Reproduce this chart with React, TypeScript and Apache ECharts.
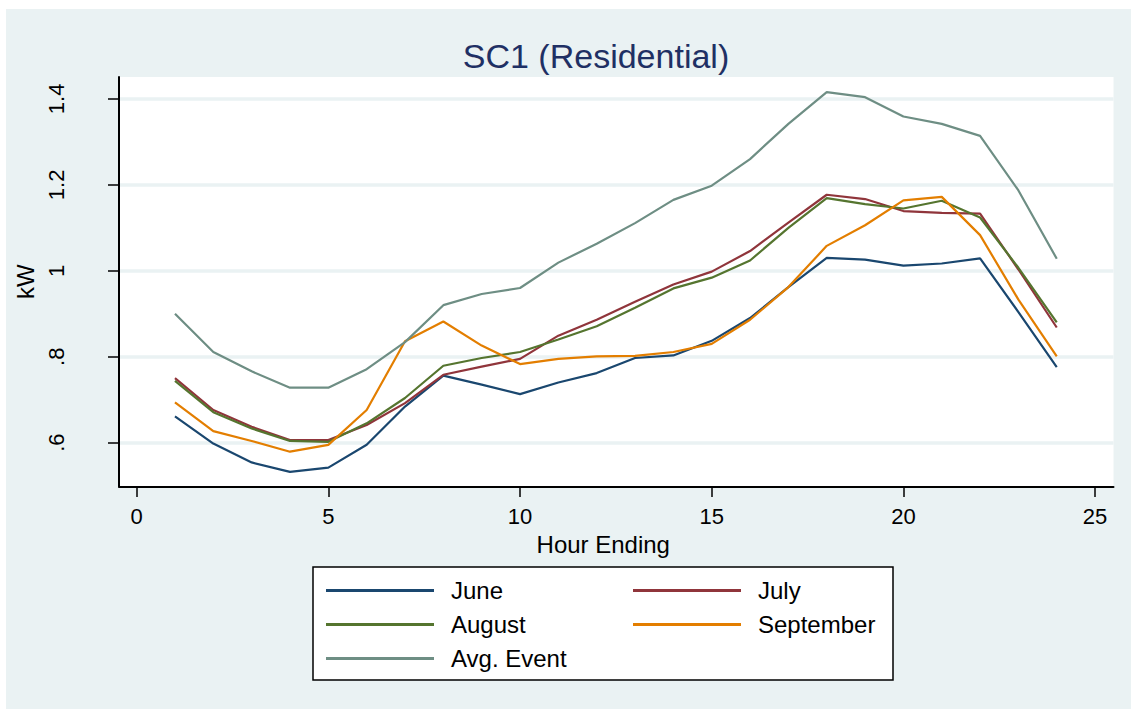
import React, { useEffect, useRef } from "react";
import * as echarts from "echarts";

const hours = [1, 2, 3, 4, 5, 6, 7, 8, 9, 10, 11, 12, 13, 14, 15, 16, 17, 18, 19, 20, 21, 22, 23, 24];

const june = [0.661, 0.598, 0.554, 0.532, 0.542, 0.595, 0.684, 0.756, 0.735, 0.713, 0.74, 0.762, 0.797, 0.803, 0.837, 0.89, 0.962, 1.03, 1.026, 1.012, 1.017, 1.029, 0.904, 0.776];
const july = [0.75, 0.676, 0.637, 0.606, 0.606, 0.641, 0.692, 0.758, 0.777, 0.795, 0.849, 0.886, 0.928, 0.968, 0.998, 1.046, 1.112, 1.177, 1.167, 1.139, 1.135, 1.133, 1.003, 0.868];
const august = [0.744, 0.671, 0.633, 0.604, 0.602, 0.645, 0.704, 0.779, 0.797, 0.811, 0.84, 0.871, 0.914, 0.959, 0.984, 1.024, 1.1, 1.169, 1.155, 1.145, 1.163, 1.124, 1.007, 0.88];
const september = [0.694, 0.627, 0.604, 0.579, 0.595, 0.676, 0.836, 0.882, 0.826, 0.783, 0.795, 0.801, 0.802, 0.811, 0.83, 0.886, 0.962, 1.058, 1.106, 1.164, 1.172, 1.083, 0.933, 0.801];
const avgEvent = [0.9, 0.811, 0.766, 0.728, 0.728, 0.771, 0.834, 0.92, 0.946, 0.96, 1.019, 1.063, 1.111, 1.165, 1.198, 1.26, 1.342, 1.416, 1.404, 1.359, 1.342, 1.314, 1.187, 1.028];

const seriesNames = ["June", "July", "August", "September", "Avg. Event"];
const seriesValues = [june, july, august, september, avgEvent];
const seriesColors = ["#1a476f", "#90353b", "#55752f", "#e37e00", "#6e8e84"];

const xTickValues = [0, 5, 10, 15, 20, 25];
const yTickValues = [0.6, 0.8, 1.0, 1.2, 1.4];
const yTickLabels = [".6", ".8", "1", "1.2", "1.4"];

const titleText = "SC1 (Residential)";
const xAxisTitle = "Hour Ending";
const yAxisTitle = "kW";

const FONT = "'Liberation Sans', Arial, sans-serif";
const BG = "#eaf2f3";

export default function App() {
  const ref = useRef<HTMLDivElement>(null);

  useEffect(() => {
    if (!ref.current) return;
    const chart = echarts.init(ref.current, undefined, { renderer: "svg" });

    const series = seriesNames.map((name, i) => ({
      name,
      type: "line",
      data: hours.map((h, j) => [h, seriesValues[i][j]]),
      showSymbol: false,
      symbol: "none",
      lineStyle: { color: seriesColors[i], width: 2.2 },
      itemStyle: { color: seriesColors[i] },
      z: 3 + i,
    }));

    const legendCommon = {
      orient: "vertical",
      padding: 0,
      itemGap: 10,
      itemWidth: 108,
      itemHeight: 3,
      icon: "rect",
      selectedMode: false,
      textStyle: {
        fontFamily: FONT,
        fontSize: 24,
        color: "#000",
        lineHeight: 22,
        padding: [0, 0, 0, 12],
      },
    };

    chart.setOption({
      animation: false,
      textStyle: { fontFamily: FONT },
      title: {
        text: titleText,
        left: 596,
        top: 38.5,
        textAlign: "center",
        padding: 0,
        textStyle: {
          fontFamily: FONT,
          fontSize: 34,
          fontWeight: "normal",
          color: "#1f3064",
          lineHeight: 34,
        },
      },
      graphic: [
        {
          type: "rect",
          shape: { x: 313, y: 567, width: 580, height: 113 },
          style: { fill: "#fff", stroke: "#000", lineWidth: 1.5 },
          silent: true,
          z: 0,
        },
      ],
      legend: [
        { ...legendCommon, left: 326, top: 578.5, data: ["June", "August", "Avg. Event"] },
        { ...legendCommon, left: 633, top: 578.5, data: ["July", "September"] },
      ],
      grid: {
        left: 119,
        right: 17.5,
        top: 77,
        bottom: 222.5,
        show: true,
        backgroundColor: "#fff",
        borderWidth: 0,
      },
      xAxis: {
        type: "value",
        min: -0.46,
        max: 25.48,
        name: xAxisTitle,
        nameLocation: "middle",
        nameGap: 38,
        nameTextStyle: {
          fontFamily: FONT,
          fontSize: 24,
          color: "#000",
          lineHeight: 24,
          padding: [0, 26, 0, 0],
        },
        axisLine: { show: true, onZero: false, lineStyle: { color: "#000", width: 2 } },
        axisTick: {
          show: true,
          length: 10.5,
          lineStyle: { color: "#000", width: 1.5 },
          customValues: xTickValues,
        },
        axisLabel: {
          show: true,
          margin: 19,
          fontFamily: FONT,
          fontSize: 22,
          color: "#000",
          lineHeight: 22,
          customValues: xTickValues,
        },
        splitLine: { show: false },
      },
      yAxis: {
        type: "value",
        min: 0.498,
        max: 1.451,
        name: yAxisTitle,
        nameLocation: "middle",
        nameGap: 80,
        nameTextStyle: {
          fontFamily: FONT,
          fontSize: 24,
          color: "#000",
          lineHeight: 24,
        },
        axisLine: { show: true, onZero: false, lineStyle: { color: "#000", width: 2 } },
        axisTick: {
          show: true,
          length: 11,
          lineStyle: { color: "#000", width: 1.5 },
          customValues: yTickValues,
        },
        axisLabel: {
          show: true,
          rotate: 90,
          margin: 52,
          fontFamily: FONT,
          fontSize: 22,
          color: "#000",
          lineHeight: 22,
          customValues: yTickValues,
          formatter: (v: number) => {
            const idx = yTickValues.findIndex((t) => Math.abs(t - v) < 1e-6);
            return idx >= 0 ? yTickLabels[idx] : "";
          },
        },
        splitLine: { show: true, lineStyle: { color: BG, width: 3.5 } },
      },
      series,
    });

    return () => chart.dispose();
  }, []);

  return (
    <div
      ref={ref}
      style={{
        position: "fixed",
        left: 0,
        top: 0,
        width: 1131,
        height: 709,
        background: `linear-gradient(${BG}, ${BG}) 6px 9px / 1125px 700px no-repeat, #ffffff`,
      }}
    />
  );
}
